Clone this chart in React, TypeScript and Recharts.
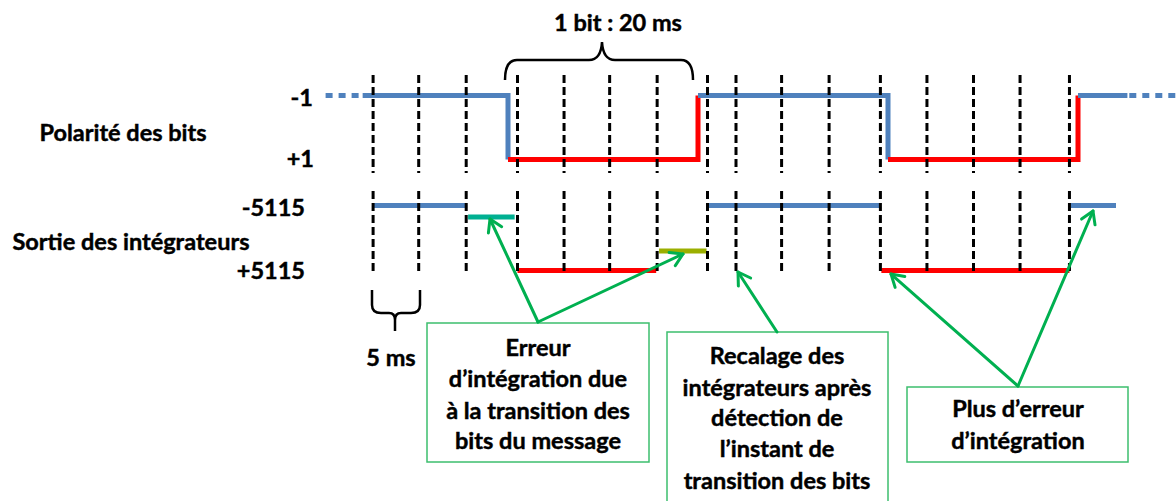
import React from "react";
import { ComposedChart, Line, XAxis, YAxis, ReferenceLine } from "recharts";

// ---------- data (time in ms, bit transitions at 0, 20, 40, 60 ms) ----------
const dumpTimes = [-14.2, -9.4, -4.4, 1.0, 5.9, 10.7, 15.7, 21.0, 24.0, 28.8, 33.8, 39.2, 44.1, 49.0, 53.9, 59.1];

const polDotsLeft = [{ t: -19.2, v: -1 }, { t: -15.3, v: -1 }];
const polBlue1 = [{ t: -15.3, v: -1 }, { t: 0, v: -1 }, { t: 0, v: 1 }];
const polRed1 = [{ t: 0, v: 1 }, { t: 20, v: 1 }, { t: 20, v: -1 }];
const polBlue2 = [{ t: 20, v: -1 }, { t: 40, v: -1 }, { t: 40, v: 1 }];
const polRed2 = [{ t: 40, v: 1 }, { t: 60, v: 1 }, { t: 60, v: -1 }];
const polBlue3 = [{ t: 60, v: -1 }, { t: 65.2, v: -1 }];
const polDotsRight = [{ t: 65.4, v: -1 }, { t: 70.3, v: -1 }];

const intBlue1 = [{ t: -14.2, v: -5115 }, { t: -4.3, v: -5115 }];
const intTeal = [{ t: -4.2, v: -3300 }, { t: 0.7, v: -3300 }];
const intRed1 = [{ t: 1.0, v: 5115 }, { t: 15.6, v: 5115 }];
const intOlive = [{ t: 15.9, v: 2050 }, { t: 20.9, v: 2050 }];
const intBlue2 = [{ t: 21.1, v: -5115 }, { t: 39.2, v: -5115 }];
const intRed2 = [{ t: 39.3, v: 5115 }, { t: 59.1, v: 5115 }];
const intBlue3 = [{ t: 59.2, v: -5115 }, { t: 64.0, v: -5115 }];

const polTicks = ["-1", "+1"];
const intTicks = ["-5115", "+5115"];
const rowLabels = ["Polarité des bits", "Sortie des intégrateurs"];
const bitLabel = "1 bit : 20 ms";
const dumpLabel = "5 ms";
const box1Lines = ["Erreur", "d\u2019intégration due", "à la transition des", "bits du message"];
const box2Lines = ["Recalage des", "intégrateurs après", "détection de", "l\u2019instant de", "transition des bits"];
const box3Lines = ["Plus d\u2019erreur", "d\u2019intégration"];

// ---------- layout ----------
const W = 1176;
const H = 501;
const X_ZERO = 508;
const PX_PER_MS = 9.5;
const xDomain = [-X_ZERO / PX_PER_MS, (W - X_ZERO) / PX_PER_MS];

const Y_POL_M1 = 95.5;
const Y_POL_P1 = 159.5;
const kPol = (Y_POL_P1 - Y_POL_M1) / 2;
const polMin = -1 - Y_POL_M1 / kPol;
const polDomain = [polMin, polMin + H / kPol];
const polAt = (px: number) => polMin + px / kPol;

const Y_INT_NEG = 205.5;
const Y_INT_POS = 270.5;
const kInt = (Y_INT_POS - Y_INT_NEG) / 10230;
const intMin = -5115 - Y_INT_NEG / kInt;
const intDomain = [intMin, intMin + H / kInt];
const intAt = (px: number) => intMin + px / kInt;

const BLUE = "#4F81BD";
const RED = "#FF0000";
const TEAL = "#00B092";
const OLIVE = "#9BAF00";
const GREEN = "#00B050";
const BOX = "#3DBE6E";
const FONT = "Lato, 'Noto Sans', sans-serif";

function Arrow({ x1, y1, x2, y2 }: { x1: number; y1: number; x2: number; y2: number }) {
  const a = Math.atan2(y2 - y1, x2 - x1);
  const L = 14;
  const s = 0.55;
  const p1 = [x2 - L * Math.cos(a - s), y2 - L * Math.sin(a - s)];
  const p2 = [x2 - L * Math.cos(a + s), y2 - L * Math.sin(a + s)];
  return (
    <g stroke={GREEN} strokeWidth={3} fill="none" strokeLinecap="round" strokeLinejoin="round">
      <line x1={x1} y1={y1} x2={x2} y2={y2} />
      <polyline points={`${p1[0]},${p1[1]} ${x2},${y2} ${p2[0]},${p2[1]}`} />
    </g>
  );
}

function TextLines({ lines, x, ys }: { lines: string[]; x: number; ys: number[] }) {
  return (
    <>
      {lines.map((l, i) => (
        <text key={i} x={x} y={ys[i]} textAnchor="middle" dominantBaseline="central">
          {l}
        </text>
      ))}
    </>
  );
}

export default function App() {
  const common = { dataKey: "v", dot: false, isAnimationActive: false, strokeWidth: 5, type: "linear" as const, activeDot: false };
  return (
    <div style={{ position: "absolute", left: 0, top: 0, width: W, height: H, background: "#fff" }}>
      <ComposedChart width={W} height={H} margin={{ top: 0, right: 0, bottom: 0, left: 0 }}>
        <XAxis type="number" dataKey="t" domain={xDomain} allowDataOverflow hide />
        <YAxis yAxisId="pol" type="number" domain={polDomain} allowDataOverflow reversed hide />
        <YAxis yAxisId="int" type="number" domain={intDomain} allowDataOverflow reversed hide />

        <Line {...common} yAxisId="pol" data={polDotsLeft} stroke={BLUE} strokeDasharray="7 6" />
        <Line {...common} yAxisId="pol" data={polBlue1} stroke={BLUE} />
        <Line {...common} yAxisId="pol" data={polRed1} stroke={RED} />
        <Line {...common} yAxisId="pol" data={polBlue2} stroke={BLUE} />
        <Line {...common} yAxisId="pol" data={polRed2} stroke={RED} />
        <Line {...common} yAxisId="pol" data={polBlue3} stroke={BLUE} />
        <Line {...common} yAxisId="pol" data={polDotsRight} stroke={BLUE} strokeDasharray="7 6" />

        <Line {...common} yAxisId="int" data={intBlue1} stroke={BLUE} />
        <Line {...common} yAxisId="int" data={intTeal} stroke={TEAL} />
        <Line {...common} yAxisId="int" data={intRed1} stroke={RED} />
        <Line {...common} yAxisId="int" data={intOlive} stroke={OLIVE} />
        <Line {...common} yAxisId="int" data={intBlue2} stroke={BLUE} />
        <Line {...common} yAxisId="int" data={intRed2} stroke={RED} />
        <Line {...common} yAxisId="int" data={intBlue3} stroke={BLUE} />

        {dumpTimes.map((t) => (
          <ReferenceLine
            key={`p${t}`}
            yAxisId="pol"
            segment={[{ x: t, y: polAt(75) }, { x: t, y: polAt(173) }]}
            stroke="#000"
            strokeWidth={3}
            strokeDasharray="8 4"
            ifOverflow="visible"
          />
        ))}
        {dumpTimes.map((t) => (
          <ReferenceLine
            key={`i${t}`}
            yAxisId="int"
            segment={[{ x: t, y: intAt(191) }, { x: t, y: intAt(273) }]}
            stroke="#000"
            strokeWidth={3}
            strokeDasharray="8 4"
            ifOverflow="visible"
          />
        ))}
      </ComposedChart>

      <svg width={W} height={H} style={{ position: "absolute", left: 0, top: 0, pointerEvents: "none" }}>
        <g fontFamily={FONT} fontWeight="bold" fontSize={23.5} fill="#000" stroke="#000" strokeWidth={0.45}>
          <text x={618} y={22} textAnchor="middle" dominantBaseline="central">{bitLabel}</text>
          <text x={313} y={97} textAnchor="end" dominantBaseline="central">{polTicks[0]}</text>
          <text x={314} y={158} textAnchor="end" dominantBaseline="central">{polTicks[1]}</text>
          <text x={305} y={207} textAnchor="end" dominantBaseline="central">{intTicks[0]}</text>
          <text x={305} y={270} textAnchor="end" dominantBaseline="central">{intTicks[1]}</text>
          <text x={123} y={132} textAnchor="middle" dominantBaseline="central">{rowLabels[0]}</text>
          <text x={131} y={241} textAnchor="middle" dominantBaseline="central">{rowLabels[1]}</text>
          <text x={391} y={357} textAnchor="middle" dominantBaseline="central">{dumpLabel}</text>
          <TextLines lines={box1Lines} x={538} ys={[347, 378, 410, 440]} />
          <TextLines lines={box2Lines} x={777} ys={[355, 387, 417, 448, 480]} />
          <TextLines lines={box3Lines} x={1018} ys={[408, 440]} />
        </g>

        <g stroke="#000" strokeWidth={2.5} fill="none">
          <path d="M505,80 Q505,60 517,60 L589,60 Q601,60 602,42 Q603,60 615,60 L681,60 Q693,60 693,80" />
          <path d="M372,290 L372,305 Q372,313 381,313 L389,313 Q395,313 395,320 L395,331 M395,320 Q395,313 401,313 L411,313 Q420,313 420,305 L420,290" />
        </g>

        <g stroke={BOX} strokeWidth={1.5} fill="none">
          <rect x={427} y={323} width={222} height={139} />
          <rect x={667} y={332} width={221} height={180} />
          <rect x={907} y={387} width={221} height={75} />
        </g>

        <Arrow x1={538} y1={322} x2={490} y2={219} />
        <Arrow x1={538} y1={322} x2={683} y2={254} />
        <Arrow x1={777} y1={332} x2={738} y2={272} />
        <Arrow x1={1018} y1={386} x2={891} y2={274} />
        <Arrow x1={1018} y1={386} x2={1093} y2={211} />
      </svg>
    </div>
  );
}
